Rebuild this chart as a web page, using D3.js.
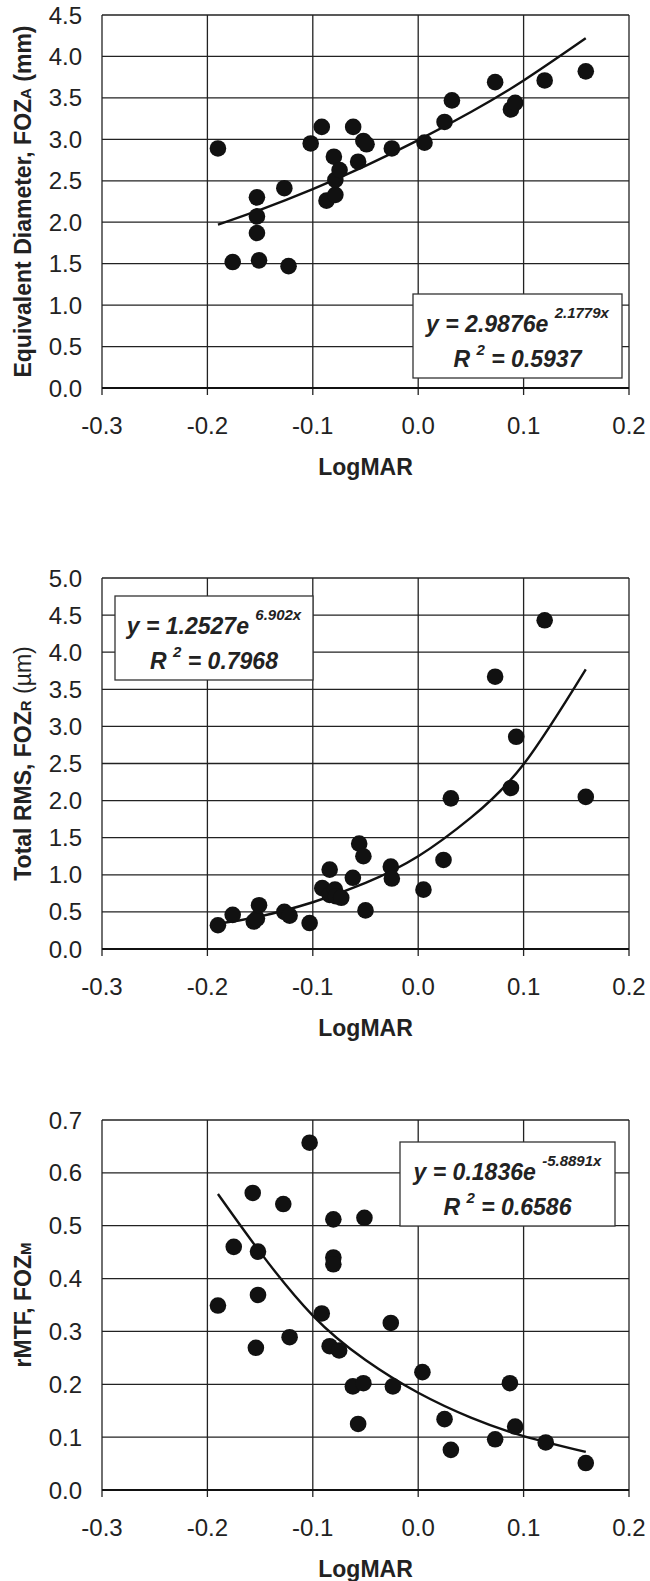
<!DOCTYPE html>
<html>
<head>
<meta charset="utf-8">
<script src="https://cdn.jsdelivr.net/npm/d3@7"></script>
<style>
  body { margin: 0; background: #fff; }
  svg text { font-family: "Liberation Sans", Arial, sans-serif; fill: #222; }
  .tick-label { font-size: 24px; }
  .axis-title { font-size: 23px; font-weight: bold; }
  .fit-text { font-size: 23px; font-weight: bold; font-style: italic; }
</style>
</head>
<body>
<div id="chart"></div>
<script>
// LogMAR tick values shared by all three panels
const xTicks = [-0.3, -0.2, -0.1, 0.0, 0.1, 0.2];

// panel A: equivalent diameter (mm)
const logmarA = [-0.190, -0.176, -0.153, -0.153, -0.153, -0.151, -0.127, -0.123, -0.102, -0.0915,
  -0.087, -0.080, -0.0786, -0.0786, -0.0746, -0.0617, -0.057, -0.052, -0.049, -0.025,
  0.006, 0.025, 0.032, 0.073, 0.088, 0.092, 0.120, 0.159];
const diamA = [2.89, 1.52, 2.30, 2.07, 1.87, 1.54, 2.41, 1.47, 2.95, 3.15,
  2.26, 2.79, 2.33, 2.51, 2.63, 3.15, 2.73, 2.98, 2.94, 2.89,
  2.96, 3.21, 3.47, 3.69, 3.36, 3.44, 3.71, 3.82];

// panel R: total RMS (um)
const logmarR = [-0.190, -0.176, -0.156, -0.153, -0.151, -0.127, -0.122, -0.103, -0.091, -0.084,
  -0.084, -0.079, -0.078, -0.073, -0.062, -0.056, -0.052, -0.050, -0.026, -0.025,
  0.005, 0.024, 0.031, 0.073, 0.088, 0.093, 0.120, 0.159];
const rmsR = [0.32, 0.46, 0.37, 0.41, 0.59, 0.50, 0.45, 0.35, 0.82, 1.07,
  0.73, 0.80, 0.71, 0.69, 0.96, 1.42, 1.25, 0.52, 1.11, 0.95,
  0.80, 1.20, 2.03, 3.67, 2.17, 2.86, 4.43, 2.05];

// panel M: rMTF
const logmarM = [-0.190, -0.175, -0.157, -0.154, -0.152, -0.152, -0.128, -0.122, -0.103, -0.0915,
  -0.084, -0.0805, -0.0805, -0.0805, -0.075, -0.062, -0.057, -0.052, -0.051, -0.026,
  -0.024, 0.004, 0.025, 0.031, 0.073, 0.087, 0.092, 0.121, 0.159];
const mtfM = [0.349, 0.460, 0.562, 0.269, 0.451, 0.369, 0.541, 0.289, 0.657, 0.334,
  0.272, 0.512, 0.440, 0.427, 0.264, 0.196, 0.125, 0.202, 0.515, 0.316,
  0.196, 0.223, 0.134, 0.076, 0.096, 0.202, 0.120, 0.090, 0.051];

// trend lines
const trendX = [-0.19, -0.15, -0.10, -0.05, 0.0, 0.05, 0.10, 0.159];
const trendA = [1.97, 2.15, 2.40, 2.68, 2.99, 3.33, 3.71, 4.22];
const trendR = [0.34, 0.44, 0.63, 0.89, 1.25, 1.77, 2.49, 3.77];
const trendM = [0.56, 0.45, 0.33, 0.246, 0.184, 0.137, 0.102, 0.072];

const width = 650, height = 1581;
const left = 102, right = 629;

const svg = d3.select("#chart").append("svg")
  .attr("width", width)
  .attr("height", height)
  .attr("viewBox", [0, 0, width, height]);

const fmt = d => d.toFixed(1);

addPlot = (opt) => {
  const g = svg.append("g");

  const xScale = d3.scaleLinear().domain([-0.3, 0.2]).range([left, right]);
  const yScale = d3.scaleLinear().domain([0, opt.yMax]).range([opt.bottom, opt.top]);

  // horizontal grid
  g.append("g")
    .selectAll("line")
    .data(opt.yTicks)
    .join("line")
      .attr("x1", left).attr("x2", right)
      .attr("y1", d => yScale(d)).attr("y2", d => yScale(d))
      .attr("stroke", "#222").attr("stroke-width", 1.3);

  // vertical grid + tick stubs
  g.append("g")
    .selectAll("line")
    .data(xTicks)
    .join("line")
      .attr("x1", d => xScale(d)).attr("x2", d => xScale(d))
      .attr("y1", opt.top).attr("y2", opt.bottom + 7)
      .attr("stroke", "#222").attr("stroke-width", 1.3);

  // bottom axis line
  g.append("line")
    .attr("x1", left).attr("x2", right)
    .attr("y1", opt.bottom).attr("y2", opt.bottom)
    .attr("stroke", "#111").attr("stroke-width", 2.2);

  // tick labels
  g.append("g")
    .selectAll("text")
    .data(xTicks)
    .join("text")
      .attr("class", "tick-label")
      .attr("x", d => xScale(d))
      .attr("y", opt.bottom + 46)
      .attr("text-anchor", "middle")
      .text(fmt);

  g.append("g")
    .selectAll("text")
    .data(opt.yTicks)
    .join("text")
      .attr("class", "tick-label")
      .attr("x", 82)
      .attr("y", d => yScale(d) + 8.5)
      .attr("text-anchor", "end")
      .text(d => d.toFixed(1));

  // axis titles
  g.append("text")
    .attr("class", "axis-title")
    .attr("x", (left + right) / 2)
    .attr("y", opt.bottom + 87)
    .attr("text-anchor", "middle")
    .text("LogMAR");

  const yt = g.append("text")
    .attr("class", "axis-title")
    .attr("transform", `translate(31, ${(opt.top + opt.bottom) / 2}) rotate(-90)`)
    .attr("text-anchor", "middle");
  yt.append("tspan").text(opt.yTitle[0]);
  yt.append("tspan").style("font-size", "15px").text(opt.yTitle[1]);
  if (opt.yTitle[2]) yt.append("tspan").text(opt.yTitle[2]);
  if (opt.yTitle[3]) yt.append("tspan").style("font-weight", "normal").text(opt.yTitle[3]);

  // trend line
  const line = d3.line()
    .curve(d3.curveNatural)
    .x(d => xScale(d[0]))
    .y(d => yScale(d[1]));
  g.append("path")
    .datum(d3.zip(trendX, opt.trend))
    .attr("d", line)
    .attr("fill", "none")
    .attr("stroke", "#111")
    .attr("stroke-width", 2.4);

  // points
  g.append("g")
    .selectAll("circle")
    .data(d3.zip(opt.xs, opt.ys))
    .join("circle")
      .attr("cx", d => xScale(d[0]))
      .attr("cy", d => yScale(d[1]))
      .attr("r", 8.3)
      .attr("fill", "#111");

  // equation box
  const b = opt.box;
  const box = g.append("g").attr("transform", `translate(${b[0]},${b[1]})`);
  box.append("rect")
    .attr("width", b[2]).attr("height", b[3])
    .attr("fill", "#fff").attr("stroke", "#333").attr("stroke-width", 1.3);
  const t1 = box.append("text")
    .attr("class", "fit-text")
    .attr("x", b[2] / 2).attr("y", 38)
    .attr("text-anchor", "middle");
  t1.append("tspan").text(opt.eq[0] + "  ");
  t1.append("tspan").attr("dy", -14).style("font-size", "15px").text(opt.eq[1]);
  const t2 = box.append("text")
    .attr("class", "fit-text")
    .attr("x", b[2] / 2).attr("y", 73)
    .attr("text-anchor", "middle");
  t2.append("tspan").text("R ");
  t2.append("tspan").attr("dy", -12).style("font-size", "15px").text("2");
  t2.append("tspan").attr("dy", 12).text("  = " + opt.r2);
}

addPlot({
  top: 15, bottom: 388, yMax: 4.5,
  yTicks: d3.range(0, 4.51, 0.5),
  xs: logmarA, ys: diamA, trend: trendA,
  yTitle: ["Equivalent Diameter, FOZ", "A", " (mm)"],
  box: [413, 294, 209, 84],
  eq: ["y = 2.9876e", "2.1779x"], r2: "0.5937"
});

addPlot({
  top: 578, bottom: 949, yMax: 5.0,
  yTicks: d3.range(0, 5.01, 0.5),
  xs: logmarR, ys: rmsR, trend: trendR,
  yTitle: ["Total RMS, FOZ", "R", " ", "(\u00b5m)"],
  box: [115, 596, 198, 84],
  eq: ["y = 1.2527e", "6.902x"], r2: "0.7968"
});

addPlot({
  top: 1120, bottom: 1490, yMax: 0.7,
  yTicks: d3.range(0, 0.71, 0.1),
  xs: logmarM, ys: mtfM, trend: trendM,
  yTitle: ["rMTF, FOZ", "M"],
  box: [400, 1142, 215, 84],
  eq: ["y = 0.1836e", "-5.8891x"], r2: "0.6586"
});
</script>
</body>
</html>
